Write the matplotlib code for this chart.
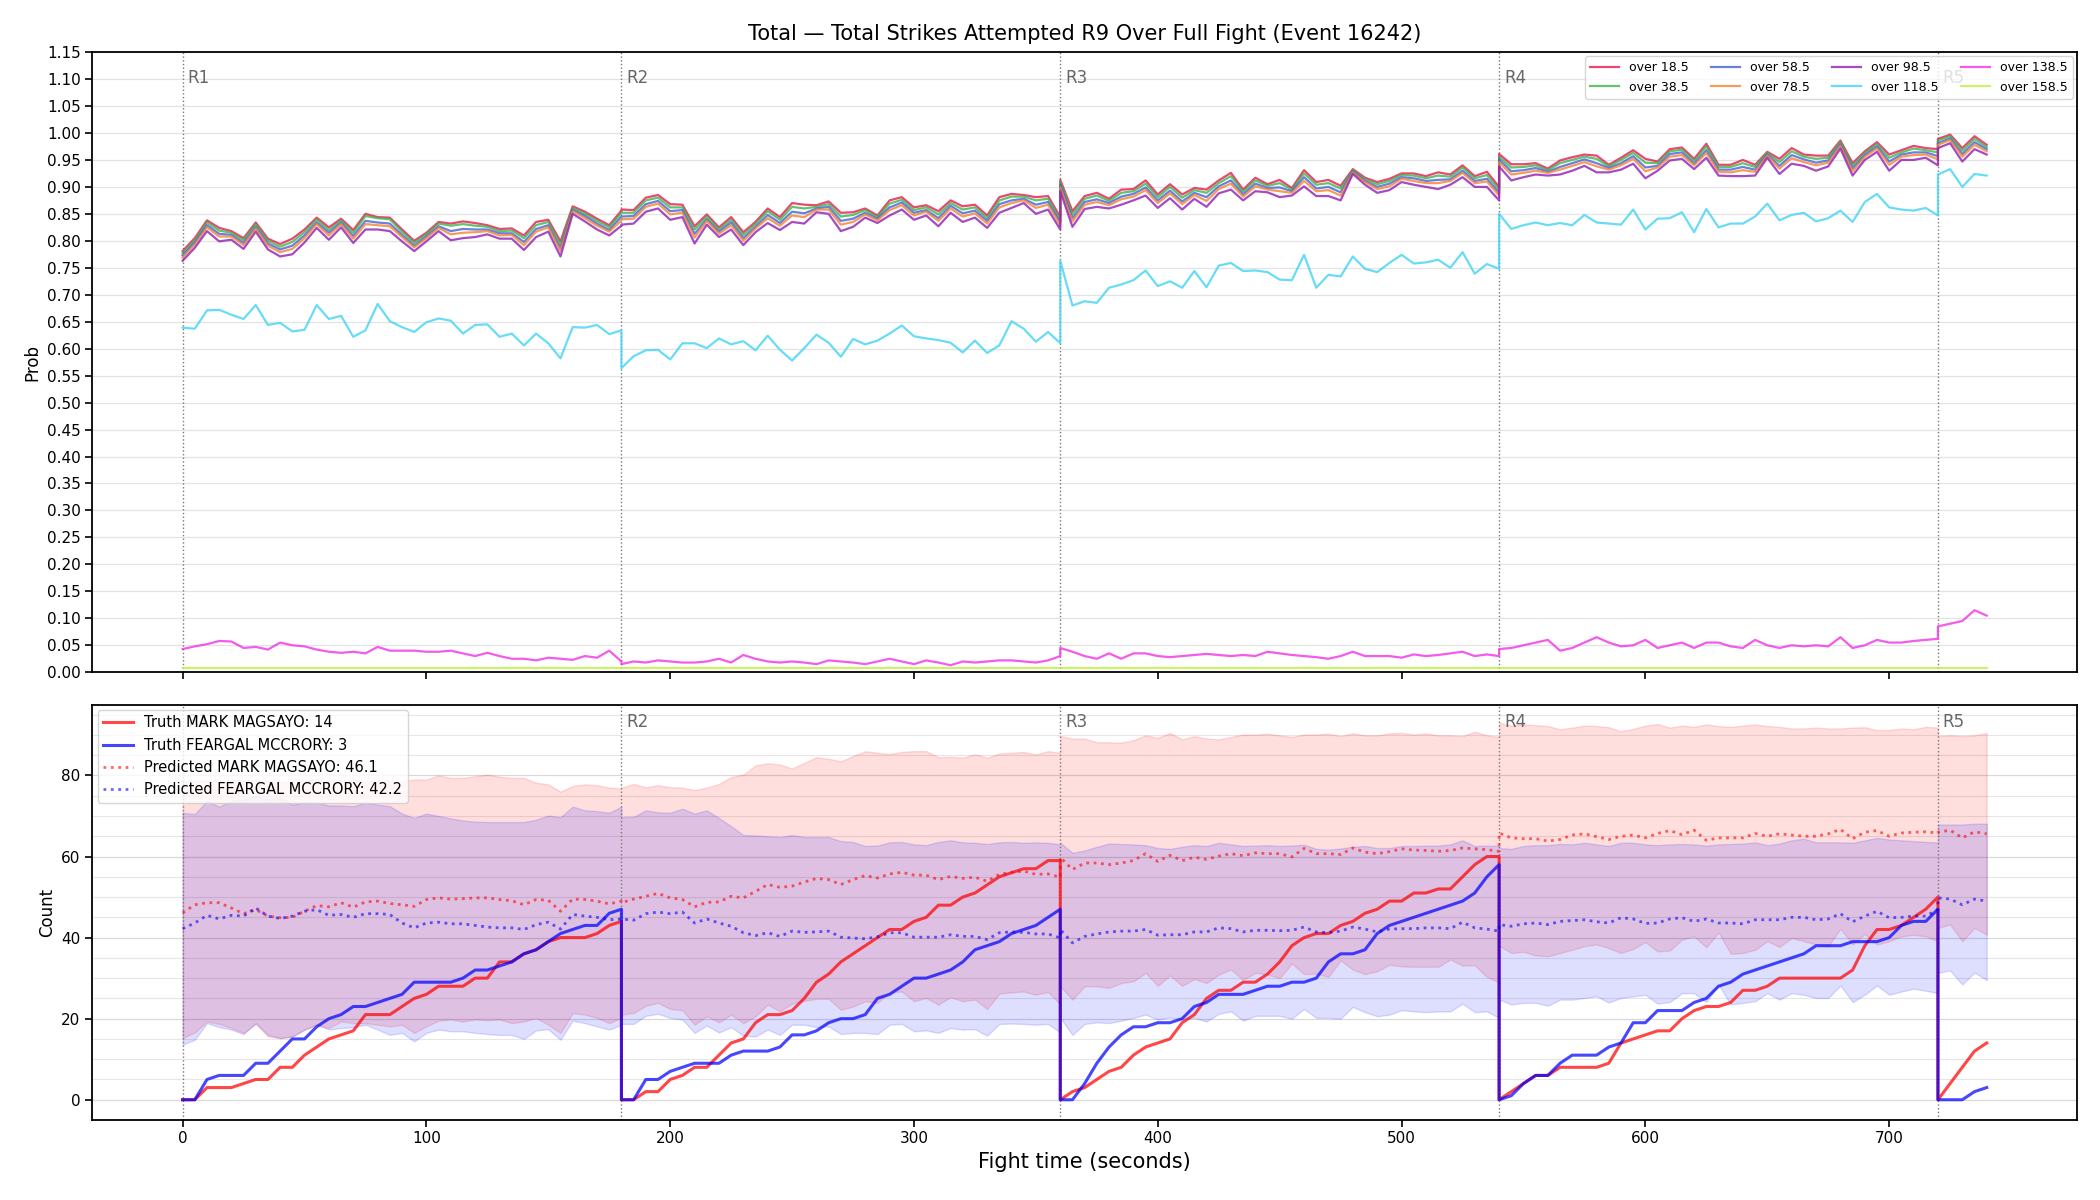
import numpy as np
import matplotlib
matplotlib.use("Agg")
import matplotlib.pyplot as plt
from matplotlib.ticker import MultipleLocator, FormatStrFormatter
import matplotlib.transforms as mtransforms

# ---------------- structure ----------------
ROUND_STARTS = [0, 180, 360, 540, 720]
ROUND_LABELS = ["R1", "R2", "R3", "R4", "R5"]
STEP = 5

TITLE = "Total \u2014 Total Strikes Attempted R9 Over Full Fight (Event 16242)"
THRESHOLD_LABELS = ["over 18.5", "over 38.5", "over 58.5", "over 78.5",
                    "over 98.5", "over 118.5", "over 138.5", "over 158.5"]

# ---------------- top panel: P(total > threshold), one list per round ----------------
OVER_18_5 = [
    [0.781, 0.805, 0.838, 0.824, 0.818, 0.805, 0.834, 0.804, 0.794, 0.804, 0.821, 0.843, 0.825, 0.841, 0.820, 0.850, 0.844, 0.843, 0.821, 0.800, 0.815, 0.835, 0.832, 0.836, 0.833, 0.829, 0.822, 0.823, 0.810, 0.835, 0.839, 0.799, 0.864, 0.854, 0.841, 0.829, 0.856],
    [0.858, 0.857, 0.880, 0.885, 0.868, 0.867, 0.827, 0.849, 0.825, 0.844, 0.816, 0.835, 0.860, 0.844, 0.870, 0.867, 0.866, 0.873, 0.852, 0.853, 0.860, 0.847, 0.875, 0.881, 0.862, 0.866, 0.855, 0.875, 0.864, 0.867, 0.847, 0.881, 0.887, 0.885, 0.881, 0.883, 0.844],
    [0.913, 0.855, 0.883, 0.889, 0.878, 0.895, 0.896, 0.912, 0.886, 0.905, 0.886, 0.898, 0.895, 0.912, 0.926, 0.895, 0.917, 0.905, 0.913, 0.898, 0.931, 0.909, 0.913, 0.902, 0.933, 0.917, 0.909, 0.915, 0.925, 0.925, 0.920, 0.927, 0.923, 0.940, 0.920, 0.928, 0.900],
    [0.961, 0.942, 0.942, 0.944, 0.934, 0.949, 0.955, 0.960, 0.958, 0.941, 0.954, 0.968, 0.952, 0.947, 0.970, 0.973, 0.952, 0.980, 0.941, 0.941, 0.950, 0.941, 0.965, 0.952, 0.972, 0.960, 0.958, 0.958, 0.986, 0.944, 0.966, 0.983, 0.960, 0.968, 0.976, 0.972, 0.970],
    [0.989, 0.997, 0.972, 0.994, 0.978],
]
OVER_38_5 = [
    [0.777, 0.801, 0.834, 0.819, 0.815, 0.801, 0.831, 0.800, 0.789, 0.798, 0.816, 0.839, 0.820, 0.838, 0.815, 0.846, 0.842, 0.840, 0.817, 0.796, 0.812, 0.832, 0.828, 0.831, 0.828, 0.826, 0.818, 0.819, 0.805, 0.829, 0.835, 0.793, 0.861, 0.850, 0.837, 0.825, 0.852],
    [0.852, 0.852, 0.875, 0.880, 0.862, 0.862, 0.821, 0.845, 0.821, 0.839, 0.811, 0.831, 0.855, 0.839, 0.863, 0.860, 0.863, 0.868, 0.845, 0.848, 0.857, 0.844, 0.869, 0.876, 0.857, 0.862, 0.849, 0.870, 0.858, 0.862, 0.842, 0.875, 0.882, 0.882, 0.875, 0.878, 0.839],
    [0.909, 0.849, 0.878, 0.884, 0.874, 0.889, 0.892, 0.906, 0.881, 0.900, 0.880, 0.894, 0.889, 0.907, 0.920, 0.891, 0.912, 0.902, 0.907, 0.895, 0.925, 0.904, 0.907, 0.897, 0.931, 0.914, 0.905, 0.911, 0.922, 0.921, 0.916, 0.921, 0.919, 0.936, 0.916, 0.922, 0.895],
    [0.956, 0.936, 0.937, 0.940, 0.931, 0.944, 0.950, 0.956, 0.952, 0.938, 0.950, 0.963, 0.945, 0.944, 0.966, 0.969, 0.948, 0.975, 0.937, 0.937, 0.944, 0.937, 0.963, 0.946, 0.966, 0.956, 0.952, 0.954, 0.983, 0.939, 0.963, 0.979, 0.954, 0.964, 0.971, 0.968, 0.964],
    [0.986, 0.994, 0.967, 0.989, 0.974],
]
OVER_58_5 = [
    [0.773, 0.797, 0.829, 0.813, 0.811, 0.796, 0.826, 0.795, 0.784, 0.791, 0.810, 0.834, 0.815, 0.834, 0.809, 0.837, 0.834, 0.832, 0.811, 0.791, 0.808, 0.827, 0.818, 0.822, 0.821, 0.821, 0.814, 0.814, 0.798, 0.822, 0.829, 0.786, 0.858, 0.846, 0.832, 0.820, 0.845],
    [0.845, 0.846, 0.868, 0.874, 0.855, 0.857, 0.813, 0.840, 0.817, 0.834, 0.805, 0.826, 0.848, 0.833, 0.854, 0.851, 0.860, 0.863, 0.837, 0.841, 0.852, 0.841, 0.862, 0.871, 0.852, 0.857, 0.842, 0.865, 0.851, 0.856, 0.837, 0.868, 0.875, 0.878, 0.867, 0.872, 0.834],
    [0.904, 0.842, 0.872, 0.877, 0.870, 0.882, 0.887, 0.899, 0.875, 0.893, 0.873, 0.889, 0.881, 0.901, 0.912, 0.886, 0.906, 0.898, 0.899, 0.892, 0.918, 0.897, 0.900, 0.890, 0.929, 0.911, 0.900, 0.906, 0.918, 0.916, 0.911, 0.913, 0.914, 0.930, 0.911, 0.915, 0.889],
    [0.951, 0.929, 0.931, 0.935, 0.928, 0.937, 0.944, 0.951, 0.944, 0.935, 0.944, 0.957, 0.936, 0.939, 0.961, 0.964, 0.943, 0.968, 0.932, 0.932, 0.937, 0.932, 0.960, 0.939, 0.959, 0.951, 0.945, 0.949, 0.979, 0.934, 0.959, 0.975, 0.947, 0.960, 0.964, 0.964, 0.957],
    [0.981, 0.990, 0.961, 0.983, 0.970],
]
OVER_78_5 = [
    [0.769, 0.793, 0.825, 0.808, 0.808, 0.792, 0.823, 0.791, 0.779, 0.785, 0.805, 0.831, 0.810, 0.831, 0.804, 0.831, 0.829, 0.827, 0.807, 0.788, 0.805, 0.824, 0.812, 0.815, 0.816, 0.818, 0.810, 0.811, 0.792, 0.817, 0.825, 0.781, 0.855, 0.842, 0.828, 0.817, 0.838],
    [0.840, 0.841, 0.863, 0.869, 0.849, 0.852, 0.806, 0.837, 0.813, 0.829, 0.800, 0.823, 0.842, 0.828, 0.847, 0.844, 0.858, 0.858, 0.830, 0.835, 0.849, 0.838, 0.857, 0.866, 0.847, 0.854, 0.837, 0.860, 0.845, 0.851, 0.832, 0.862, 0.870, 0.875, 0.861, 0.867, 0.829],
    [0.899, 0.836, 0.867, 0.872, 0.866, 0.877, 0.882, 0.894, 0.870, 0.888, 0.868, 0.885, 0.874, 0.896, 0.906, 0.882, 0.901, 0.895, 0.892, 0.889, 0.911, 0.892, 0.894, 0.884, 0.927, 0.909, 0.896, 0.901, 0.915, 0.911, 0.907, 0.907, 0.911, 0.926, 0.907, 0.910, 0.884],
    [0.946, 0.923, 0.926, 0.930, 0.926, 0.932, 0.939, 0.946, 0.938, 0.932, 0.940, 0.952, 0.929, 0.936, 0.956, 0.959, 0.940, 0.963, 0.928, 0.927, 0.931, 0.928, 0.958, 0.934, 0.953, 0.946, 0.940, 0.945, 0.976, 0.929, 0.956, 0.971, 0.941, 0.956, 0.959, 0.960, 0.951],
    [0.978, 0.987, 0.956, 0.978, 0.966],
]
OVER_98_5 = [
    [0.763, 0.787, 0.818, 0.799, 0.802, 0.785, 0.817, 0.784, 0.771, 0.775, 0.797, 0.824, 0.802, 0.825, 0.796, 0.821, 0.821, 0.818, 0.799, 0.781, 0.799, 0.818, 0.801, 0.805, 0.807, 0.812, 0.804, 0.804, 0.783, 0.807, 0.817, 0.771, 0.850, 0.836, 0.821, 0.810, 0.828],
    [0.830, 0.832, 0.854, 0.860, 0.839, 0.844, 0.795, 0.830, 0.807, 0.821, 0.792, 0.816, 0.833, 0.820, 0.835, 0.832, 0.853, 0.850, 0.818, 0.826, 0.843, 0.833, 0.847, 0.858, 0.839, 0.847, 0.827, 0.852, 0.835, 0.843, 0.824, 0.852, 0.861, 0.870, 0.850, 0.858, 0.821],
    [0.892, 0.826, 0.859, 0.863, 0.860, 0.867, 0.875, 0.884, 0.861, 0.879, 0.858, 0.878, 0.863, 0.888, 0.895, 0.875, 0.892, 0.890, 0.881, 0.884, 0.901, 0.883, 0.883, 0.875, 0.924, 0.904, 0.889, 0.894, 0.909, 0.904, 0.900, 0.896, 0.904, 0.918, 0.900, 0.900, 0.875],
    [0.938, 0.912, 0.918, 0.923, 0.921, 0.923, 0.930, 0.939, 0.927, 0.927, 0.932, 0.943, 0.916, 0.930, 0.949, 0.952, 0.933, 0.954, 0.921, 0.920, 0.920, 0.921, 0.954, 0.924, 0.943, 0.939, 0.930, 0.938, 0.971, 0.921, 0.950, 0.965, 0.930, 0.950, 0.950, 0.954, 0.940],
    [0.972, 0.981, 0.947, 0.970, 0.960],
]
OVER_118_5 = [
    [0.639, 0.637, 0.671, 0.672, 0.663, 0.655, 0.681, 0.644, 0.648, 0.632, 0.635, 0.681, 0.655, 0.661, 0.622, 0.634, 0.683, 0.651, 0.640, 0.631, 0.649, 0.656, 0.652, 0.628, 0.644, 0.645, 0.622, 0.628, 0.606, 0.628, 0.610, 0.582, 0.640, 0.639, 0.644, 0.627, 0.634],
    [0.564, 0.586, 0.597, 0.598, 0.580, 0.610, 0.610, 0.601, 0.619, 0.608, 0.614, 0.597, 0.624, 0.598, 0.578, 0.601, 0.626, 0.611, 0.585, 0.618, 0.608, 0.615, 0.628, 0.643, 0.623, 0.619, 0.616, 0.611, 0.593, 0.615, 0.592, 0.606, 0.651, 0.637, 0.613, 0.631, 0.610],
    [0.763, 0.680, 0.688, 0.685, 0.713, 0.719, 0.727, 0.745, 0.716, 0.725, 0.713, 0.744, 0.714, 0.754, 0.759, 0.744, 0.745, 0.742, 0.728, 0.727, 0.774, 0.713, 0.737, 0.734, 0.771, 0.748, 0.742, 0.759, 0.774, 0.758, 0.760, 0.765, 0.750, 0.779, 0.739, 0.757, 0.748],
    [0.850, 0.822, 0.829, 0.834, 0.829, 0.833, 0.829, 0.848, 0.834, 0.832, 0.830, 0.858, 0.821, 0.841, 0.842, 0.853, 0.816, 0.859, 0.825, 0.832, 0.832, 0.845, 0.869, 0.838, 0.848, 0.852, 0.836, 0.842, 0.856, 0.835, 0.872, 0.887, 0.862, 0.858, 0.856, 0.861, 0.847],
    [0.923, 0.933, 0.900, 0.924, 0.921],
]
OVER_138_5 = [
    [0.043, 0.048, 0.052, 0.058, 0.057, 0.045, 0.047, 0.042, 0.055, 0.050, 0.048, 0.042, 0.038, 0.036, 0.038, 0.035, 0.047, 0.040, 0.040, 0.040, 0.038, 0.038, 0.040, 0.035, 0.030, 0.036, 0.030, 0.025, 0.025, 0.022, 0.027, 0.025, 0.023, 0.030, 0.027, 0.040, 0.020],
    [0.015, 0.020, 0.018, 0.022, 0.020, 0.018, 0.018, 0.020, 0.025, 0.018, 0.032, 0.025, 0.020, 0.018, 0.020, 0.018, 0.015, 0.022, 0.020, 0.018, 0.015, 0.020, 0.025, 0.020, 0.015, 0.022, 0.018, 0.013, 0.020, 0.018, 0.020, 0.022, 0.022, 0.020, 0.018, 0.022, 0.030],
    [0.045, 0.038, 0.030, 0.025, 0.035, 0.025, 0.035, 0.035, 0.030, 0.028, 0.030, 0.032, 0.034, 0.032, 0.030, 0.032, 0.030, 0.038, 0.035, 0.032, 0.030, 0.028, 0.025, 0.030, 0.038, 0.030, 0.030, 0.030, 0.027, 0.033, 0.030, 0.032, 0.035, 0.038, 0.030, 0.033, 0.030],
    [0.043, 0.045, 0.050, 0.055, 0.060, 0.040, 0.045, 0.055, 0.065, 0.055, 0.048, 0.050, 0.060, 0.045, 0.050, 0.055, 0.045, 0.055, 0.055, 0.048, 0.045, 0.060, 0.050, 0.045, 0.050, 0.048, 0.050, 0.048, 0.065, 0.045, 0.050, 0.060, 0.055, 0.055, 0.058, 0.060, 0.062],
    [0.085, 0.090, 0.095, 0.115, 0.105],
]
OVER_158_5 = [
    [0.008, 0.008, 0.008, 0.008, 0.008, 0.008, 0.008, 0.008, 0.008, 0.008, 0.008, 0.008, 0.008, 0.008, 0.008, 0.008, 0.008, 0.008, 0.008, 0.008, 0.008, 0.008, 0.008, 0.008, 0.008, 0.008, 0.008, 0.008, 0.008, 0.008, 0.008, 0.008, 0.008, 0.008, 0.008, 0.008, 0.008],
    [0.008, 0.008, 0.008, 0.008, 0.008, 0.008, 0.008, 0.008, 0.008, 0.008, 0.008, 0.008, 0.008, 0.008, 0.008, 0.008, 0.008, 0.008, 0.008, 0.008, 0.008, 0.008, 0.008, 0.008, 0.008, 0.008, 0.008, 0.008, 0.008, 0.008, 0.008, 0.008, 0.008, 0.008, 0.008, 0.008, 0.008],
    [0.008, 0.008, 0.008, 0.008, 0.008, 0.008, 0.008, 0.008, 0.008, 0.008, 0.008, 0.008, 0.008, 0.008, 0.008, 0.008, 0.008, 0.008, 0.008, 0.008, 0.008, 0.008, 0.008, 0.008, 0.008, 0.008, 0.008, 0.008, 0.008, 0.008, 0.008, 0.008, 0.008, 0.008, 0.008, 0.008, 0.008],
    [0.008, 0.008, 0.008, 0.008, 0.008, 0.008, 0.008, 0.008, 0.008, 0.008, 0.008, 0.008, 0.008, 0.008, 0.008, 0.008, 0.008, 0.008, 0.008, 0.008, 0.008, 0.008, 0.008, 0.008, 0.008, 0.008, 0.008, 0.008, 0.008, 0.008, 0.008, 0.008, 0.008, 0.008, 0.008, 0.008, 0.008],
    [0.008, 0.008, 0.008, 0.008, 0.008],
]

# ---------------- bottom panel: counts ----------------
NAME_A = "MARK MAGSAYO"
NAME_B = "FEARGAL MCCRORY"
TRUTH_A_FINAL = 14
TRUTH_B_FINAL = 3
PRED_A_SHOWN = 46.1
PRED_B_SHOWN = 42.2

TRUTH_A = [
    [0, 0, 3, 3, 3, 4, 5, 5, 8, 8, 11, 13, 15, 16, 17, 21, 21, 21, 23, 25, 26, 28, 28, 28, 30, 30, 34, 34, 36, 37, 39, 40, 40, 40, 41, 43, 44],
    [0, 0, 2, 2, 5, 6, 8, 8, 11, 14, 15, 19, 21, 21, 22, 25, 29, 31, 34, 36, 38, 40, 42, 42, 44, 45, 48, 48, 50, 51, 53, 55, 56, 57, 57, 59, 59],
    [0, 2, 3, 5, 7, 8, 11, 13, 14, 15, 19, 21, 25, 27, 27, 29, 29, 31, 34, 38, 40, 41, 41, 43, 44, 46, 47, 49, 49, 51, 51, 52, 52, 55, 58, 60, 60],
    [0, 2, 4, 6, 6, 8, 8, 8, 8, 9, 14, 15, 16, 17, 17, 20, 22, 23, 23, 24, 27, 27, 28, 30, 30, 30, 30, 30, 30, 32, 38, 42, 42, 43, 45, 47, 50],
    [0, 4, 8, 12, 14],
]
TRUTH_B = [
    [0, 0, 5, 6, 6, 6, 9, 9, 12, 15, 15, 18, 20, 21, 23, 23, 24, 25, 26, 29, 29, 29, 29, 30, 32, 32, 33, 34, 36, 37, 39, 41, 42, 43, 43, 46, 47],
    [0, 0, 5, 5, 7, 8, 9, 9, 9, 11, 12, 12, 12, 13, 16, 16, 17, 19, 20, 20, 21, 25, 26, 28, 30, 30, 31, 32, 34, 37, 38, 39, 41, 42, 43, 45, 47],
    [0, 0, 4, 9, 13, 16, 18, 18, 19, 19, 20, 23, 24, 26, 26, 26, 27, 28, 28, 29, 29, 30, 34, 36, 36, 37, 41, 43, 44, 45, 46, 47, 48, 49, 51, 55, 58],
    [0, 1, 4, 6, 6, 9, 11, 11, 11, 13, 14, 19, 19, 22, 22, 22, 24, 25, 28, 29, 31, 32, 33, 34, 35, 36, 38, 38, 38, 39, 39, 39, 40, 43, 44, 44, 47],
    [0, 0, 0, 2, 3],
]
PRED_A = [
    [46.1, 48.1, 48.6, 48.6, 47.3, 45.9, 46.9, 45.3, 44.9, 45.0, 46.5, 47.9, 47.6, 48.6, 47.5, 48.8, 49.0, 48.4, 48.1, 47.7, 49.4, 49.8, 49.5, 49.6, 49.8, 49.8, 49.4, 49.1, 48.1, 49.4, 49.2, 46.5, 49.5, 49.4, 49.0, 48.3, 49.0],
    [48.6, 49.5, 50.2, 50.9, 49.8, 49.4, 47.6, 48.7, 48.8, 50.2, 49.8, 51.4, 53.1, 52.4, 52.7, 53.7, 54.6, 54.3, 53.1, 54.3, 55.3, 54.7, 55.7, 56.1, 55.4, 55.4, 54.3, 55.1, 54.6, 54.9, 53.9, 55.6, 56.1, 56.4, 55.6, 55.7, 54.9],
    [59.8, 56.8, 58.4, 58.4, 58.0, 58.4, 59.0, 60.7, 58.8, 60.3, 59.0, 59.8, 59.3, 60.1, 60.7, 60.2, 60.9, 60.7, 60.7, 59.9, 62.0, 60.7, 60.7, 60.5, 62.1, 61.1, 60.7, 61.2, 61.9, 61.6, 61.5, 61.3, 61.5, 62.1, 61.9, 61.7, 61.3],
    [65.8, 64.6, 64.4, 64.4, 63.8, 64.2, 65.3, 65.6, 64.9, 64.2, 65.0, 65.3, 64.6, 65.7, 66.4, 65.4, 66.5, 64.0, 64.6, 64.6, 64.6, 65.7, 65.0, 65.6, 65.3, 65.0, 65.0, 65.6, 66.7, 64.4, 66.0, 66.4, 65.0, 65.8, 66.0, 66.1, 65.8],
    [66.0, 66.5, 64.6, 66.1, 65.6],
]
PRED_B = [
    [42.2, 43.6, 45.5, 44.6, 45.5, 45.3, 47.3, 45.3, 44.7, 45.3, 46.5, 46.9, 45.5, 45.7, 45.0, 45.9, 45.9, 45.7, 43.6, 42.4, 43.6, 43.8, 43.4, 43.4, 43.0, 42.6, 42.4, 42.4, 42.0, 43.2, 43.8, 42.1, 45.7, 45.3, 45.0, 44.4, 44.6],
    [44.6, 44.3, 45.9, 46.3, 45.9, 46.3, 43.6, 44.6, 43.6, 42.8, 41.2, 40.5, 41.2, 40.3, 41.6, 41.3, 41.4, 41.6, 40.1, 39.9, 39.7, 40.2, 41.2, 41.2, 40.1, 40.1, 40.1, 40.7, 40.3, 40.3, 39.5, 41.2, 41.4, 41.3, 40.9, 40.9, 39.9],
    [42.0, 38.7, 40.3, 40.9, 41.4, 41.6, 41.6, 42.0, 40.6, 40.7, 40.7, 41.4, 41.4, 42.4, 42.2, 41.4, 41.8, 41.8, 41.7, 41.8, 42.6, 41.4, 41.2, 41.6, 42.6, 42.1, 41.4, 42.1, 42.2, 42.2, 42.4, 42.4, 42.2, 43.8, 42.4, 42.1, 41.6],
    [43.2, 42.8, 43.4, 43.6, 43.2, 44.0, 44.2, 44.4, 43.9, 43.6, 44.9, 44.6, 43.5, 43.6, 44.6, 44.9, 44.0, 44.6, 43.6, 43.6, 43.4, 44.4, 44.4, 44.4, 45.0, 45.0, 44.4, 44.6, 45.9, 43.9, 45.3, 46.5, 44.9, 45.0, 45.3, 45.3, 46.9],
    [49.8, 49.5, 48.1, 49.5, 49.0],
]
UPPER_A = [
    [78.6, 78.6, 78.8, 78.6, 79.0, 78.8, 78.8, 78.6, 78.4, 78.6, 78.8, 79.0, 78.6, 78.8, 79.0, 78.6, 78.8, 78.8, 78.6, 79.0, 79.0, 80.0, 79.4, 79.4, 79.8, 80.2, 79.7, 79.4, 79.4, 78.2, 77.8, 76.0, 77.4, 77.8, 77.6, 77.0, 76.8],
    [77.0, 77.9, 77.1, 77.6, 77.1, 77.0, 76.4, 77.0, 77.9, 79.6, 80.2, 82.5, 83.0, 82.7, 81.7, 83.1, 84.5, 84.1, 83.5, 84.8, 86.0, 85.6, 85.3, 85.8, 86.0, 86.0, 84.5, 84.6, 84.4, 85.2, 84.4, 85.4, 85.6, 85.8, 85.2, 86.0, 85.6],
    [89.7, 89.1, 89.1, 88.2, 88.2, 88.1, 88.7, 89.9, 89.3, 90.5, 88.9, 89.7, 89.1, 88.9, 89.5, 90.1, 90.1, 90.3, 89.9, 89.5, 90.1, 90.1, 90.3, 89.7, 90.4, 89.9, 89.9, 90.4, 90.5, 90.1, 90.4, 89.9, 89.9, 89.7, 90.8, 89.9, 89.5],
    [93.0, 92.3, 92.6, 92.4, 92.2, 91.4, 91.8, 92.3, 92.2, 91.9, 90.9, 91.5, 92.3, 92.7, 91.8, 92.3, 92.0, 92.6, 92.2, 92.0, 92.3, 92.6, 92.2, 92.0, 91.6, 91.6, 91.8, 91.6, 91.6, 91.8, 91.9, 91.2, 91.2, 91.6, 91.4, 92.0, 91.8],
    [89.7, 89.9, 89.7, 89.9, 90.5],
]
LOWER_A = [
    [15.2, 16.6, 19.3, 18.7, 17.7, 16.5, 18.7, 15.6, 15.2, 15.6, 17.3, 18.5, 17.7, 19.3, 18.9, 18.9, 18.5, 18.1, 18.5, 16.5, 18.1, 19.5, 19.8, 19.3, 19.8, 19.6, 19.8, 18.9, 19.3, 20.2, 18.5, 16.5, 21.4, 21.0, 20.2, 18.9, 20.2],
    [21.0, 21.4, 23.2, 23.9, 22.4, 22.1, 18.5, 20.6, 19.1, 21.0, 18.9, 20.6, 23.5, 21.8, 23.7, 24.4, 24.9, 24.9, 22.2, 23.0, 24.3, 23.9, 26.5, 26.7, 24.3, 25.1, 23.5, 25.3, 24.3, 24.7, 22.4, 26.2, 26.5, 26.7, 25.9, 26.6, 23.5],
    [28.0, 24.7, 28.0, 28.0, 27.6, 28.8, 29.2, 31.3, 28.1, 30.7, 28.1, 29.8, 28.8, 30.9, 32.1, 29.6, 31.3, 30.9, 30.0, 33.6, 31.0, 31.1, 30.3, 34.4, 32.1, 31.0, 31.7, 33.3, 32.9, 32.8, 32.8, 32.8, 34.6, 33.1, 33.2, 30.3, 29.0],
    [38.0, 36.2, 36.5, 35.6, 35.4, 36.2, 37.0, 37.9, 38.3, 37.4, 36.2, 37.2, 38.9, 36.6, 36.8, 39.5, 40.3, 37.6, 41.3, 36.0, 36.2, 37.0, 39.1, 37.7, 39.9, 39.1, 38.3, 37.9, 42.2, 38.3, 40.9, 38.3, 39.1, 40.3, 40.7, 40.3, 39.1],
    [42.4, 43.2, 39.1, 42.4, 40.7],
]
UPPER_B = [
    [70.8, 70.5, 73.7, 72.3, 73.7, 74.1, 74.9, 74.1, 74.5, 72.8, 73.4, 73.3, 72.6, 72.6, 72.4, 73.3, 72.8, 72.4, 70.6, 69.5, 70.6, 70.0, 69.4, 68.9, 68.6, 68.5, 68.5, 68.5, 68.5, 69.1, 70.1, 69.7, 72.3, 71.4, 71.2, 70.8, 72.3],
    [69.7, 69.8, 71.4, 70.9, 70.8, 71.8, 70.6, 71.4, 69.5, 67.5, 65.3, 65.2, 65.0, 64.8, 65.3, 64.8, 64.8, 64.8, 63.8, 63.6, 62.6, 62.7, 63.5, 63.6, 63.0, 62.8, 63.6, 64.0, 63.5, 63.4, 63.1, 63.5, 63.6, 63.4, 63.5, 63.4, 63.0],
    [63.4, 60.9, 61.5, 62.4, 63.2, 63.1, 63.0, 62.8, 62.1, 61.9, 62.4, 62.8, 62.6, 63.4, 63.0, 62.6, 62.7, 62.8, 62.6, 62.7, 62.9, 61.9, 61.7, 62.0, 62.4, 62.6, 62.1, 62.1, 62.6, 62.6, 62.7, 62.7, 63.0, 64.0, 62.6, 62.7, 62.6],
    [62.1, 61.9, 62.6, 62.8, 62.8, 63.1, 63.0, 63.4, 63.0, 62.6, 63.4, 63.4, 63.0, 62.8, 63.0, 63.1, 63.0, 62.7, 63.0, 63.1, 63.2, 63.5, 62.8, 63.2, 64.0, 64.4, 63.5, 63.5, 63.5, 63.4, 64.0, 64.6, 64.2, 64.0, 63.8, 63.6, 63.5],
    [67.9, 67.9, 67.9, 68.1, 68.1],
]
LOWER_B = [
    [13.6, 14.8, 18.9, 17.9, 17.3, 16.2, 18.9, 16.0, 15.2, 15.6, 17.3, 18.5, 17.3, 17.7, 17.9, 18.5, 17.3, 16.0, 16.5, 14.4, 16.5, 17.3, 16.9, 16.9, 16.5, 16.2, 16.0, 16.0, 15.0, 17.1, 17.4, 14.8, 19.5, 18.9, 18.1, 17.3, 18.5],
    [18.7, 18.7, 20.7, 21.2, 20.2, 19.8, 16.5, 18.3, 16.6, 17.9, 15.8, 15.6, 17.3, 16.0, 18.5, 18.5, 17.9, 18.1, 16.2, 16.5, 16.5, 16.2, 18.5, 18.7, 16.9, 17.1, 16.5, 17.7, 17.3, 17.4, 15.8, 18.7, 18.8, 18.7, 18.5, 18.7, 16.6],
    [20.2, 16.0, 18.7, 19.1, 18.9, 19.5, 20.2, 21.0, 19.8, 20.3, 19.8, 20.2, 19.3, 21.2, 21.8, 19.5, 20.7, 20.7, 20.7, 20.0, 22.4, 20.2, 20.2, 20.0, 22.9, 21.6, 20.6, 21.0, 22.1, 21.8, 21.6, 21.8, 21.8, 23.7, 21.6, 21.8, 20.2],
    [24.7, 23.5, 23.9, 23.9, 23.2, 24.7, 24.7, 25.1, 25.5, 24.0, 25.1, 25.5, 25.9, 23.7, 24.1, 26.3, 26.3, 24.1, 28.4, 23.5, 23.9, 24.3, 26.3, 24.7, 26.3, 25.9, 25.1, 25.1, 28.2, 24.1, 25.9, 28.2, 25.9, 26.7, 27.4, 26.9, 26.3],
    [31.3, 31.9, 28.4, 31.4, 29.5],
]

# ---------------- styles ----------------
THRESH_COLORS = ["#e6194b", "#3cb44b", "#4363d8", "#f58231",
                 "#911eb4", "#42d4f4", "#f032e6", "#bfef45"]


def concat(series):
    xs, ys = [], []
    for start, vals in zip(ROUND_STARTS, series):
        xs.extend(start + STEP * i for i in range(len(vals)))
        ys.extend(vals)
    return np.array(xs, dtype=float), np.array(ys, dtype=float)


plt.rcParams["font.family"] = ["DejaVu Sans"]
fig = plt.figure(figsize=(21, 12), dpi=100)
ax1 = fig.add_axes([0.044, 0.4398, 0.945, 0.5168])
ax2 = fig.add_axes([0.044, 0.067, 0.945, 0.3459], sharex=ax1)

# ---- top panel ----
top_series = [OVER_18_5, OVER_38_5, OVER_58_5, OVER_78_5,
              OVER_98_5, OVER_118_5, OVER_138_5, OVER_158_5]
for ser, lab, col in zip(top_series, THRESHOLD_LABELS, THRESH_COLORS):
    x, y = concat(ser)
    ax1.plot(x, y, color=col, lw=1.6, alpha=0.8, label=lab)

ax1.set_ylim(0, 1.15)
ax1.yaxis.set_major_locator(MultipleLocator(0.05))
ax1.yaxis.set_major_formatter(FormatStrFormatter("%.2f"))
ax1.grid(axis="y", color="#e3e3e3", lw=0.9)
ax1.set_axisbelow(True)
ax1.set_ylabel("Prob", fontsize=12)
ax1.set_title(TITLE, fontsize=15, pad=9)
ax1.tick_params(axis="x", labelbottom=False)
leg1 = ax1.legend(loc="upper right", ncol=4, fontsize=9, framealpha=0.8,
                  handlelength=2.3, columnspacing=1.8, borderaxespad=0.35)

# ---- bottom panel ----
xa, ua = concat(UPPER_A)
_, la = concat(LOWER_A)
xb, ub = concat(UPPER_B)
_, lb = concat(LOWER_B)
ax2.fill_between(xa, la, ua, color="red", alpha=0.13, lw=1)
ax2.fill_between(xb, lb, ub, color="blue", alpha=0.13, lw=1)

x, y = concat(TRUTH_A)
ax2.plot(x, y, color="red", lw=2.2, alpha=0.72, label=f"Truth {NAME_A}: {TRUTH_A_FINAL}")
x, y = concat(TRUTH_B)
ax2.plot(x, y, color="blue", lw=2.2, alpha=0.72, label=f"Truth {NAME_B}: {TRUTH_B_FINAL}")
x, y = concat(PRED_A)
ax2.plot(x, y, color="red", lw=2, alpha=0.6, ls=":", label=f"Predicted {NAME_A}: {PRED_A_SHOWN}")
x, y = concat(PRED_B)
ax2.plot(x, y, color="blue", lw=2, alpha=0.6, ls=":", label=f"Predicted {NAME_B}: {PRED_B_SHOWN}")

ax2.set_ylim(-4.9, 97.5)
ax2.set_xlim(-37, 777)
ax2.yaxis.set_major_locator(MultipleLocator(20))
ax2.yaxis.set_minor_locator(MultipleLocator(5))
ax2.xaxis.set_major_locator(MultipleLocator(100))
ax2.grid(axis="y", which="major", color="#d9d9d9", lw=0.9)
ax2.grid(axis="y", which="minor", color="#e6e6e6", lw=0.8)
ax2.tick_params(axis="y", which="minor", length=0)
ax2.set_axisbelow(True)
ax2.set_ylabel("Count", fontsize=12)
ax2.set_xlabel("Fight time (seconds)", fontsize=15)
ax2.legend(loc="upper left", fontsize=10.5, framealpha=0.8, borderaxespad=0.35)

# ---- round markers ----
for ax in (ax1, ax2):
    trans = mtransforms.blended_transform_factory(ax.transData, ax.transAxes)
    for start, lab in zip(ROUND_STARTS, ROUND_LABELS):
        ax.axvline(start, color="#777777", ls=":", lw=1.0, zorder=1)
        ax.text(start + 2, 0.958, lab, transform=trans, color="#666666",
                fontsize=12, va="center", ha="left", zorder=1)
    for sp in ax.spines.values():
        sp.set_linewidth(1.3)
    ax.tick_params(labelsize=11, width=1.2, length=5)

fig.savefig("out.png", dpi=100)
